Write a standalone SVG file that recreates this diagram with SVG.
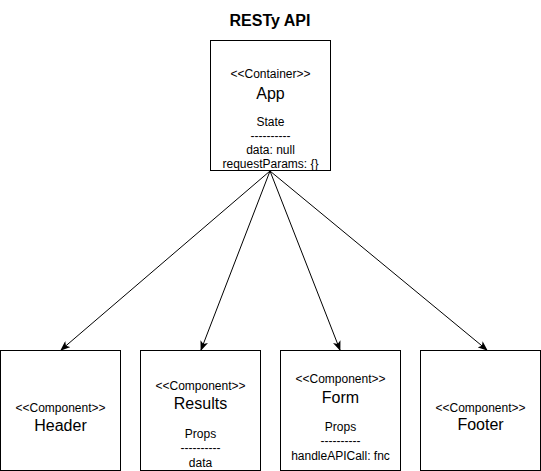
<svg xmlns="http://www.w3.org/2000/svg" width="541" height="471" viewBox="0 0 541 471">
<style>
text{font-family:"Liberation Sans",Arial,Helvetica,sans-serif;fill:#000;text-anchor:middle}
.box{fill:#fff;stroke:#000;stroke-width:1}
.s{font-size:12px}
.m{font-size:12px}
.l{font-size:16px}
.t{font-size:16px;font-weight:bold}
.edge{stroke:#000;stroke-width:1;fill:none}
</style>
<defs>
<marker id="arr" viewBox="0 0 10 8" refX="9" refY="4" markerWidth="10" markerHeight="8" markerUnits="userSpaceOnUse" orient="auto">
<path d="M0,0 L10,4 L0,8 L2.5,4 Z" fill="#000"/>
</marker>
</defs>
<text class="t" x="270" y="26">RESTy API</text>
<g id="connectors">
<line class="edge" x1="270" y1="171" x2="61" y2="350" marker-end="url(#arr)"/>
<line class="edge" x1="270" y1="171" x2="201" y2="350" marker-end="url(#arr)"/>
<line class="edge" x1="270" y1="171" x2="340" y2="350" marker-end="url(#arr)"/>
<line class="edge" x1="270" y1="171" x2="487" y2="350" marker-end="url(#arr)"/>
</g>
<g id="app">
<rect class="box" x="210.5" y="40.5" width="120" height="130"/>
<text class="s" x="270.5" y="78">&lt;&lt;Container&gt;&gt;</text>
<text class="l" x="270.5" y="99">App</text>
<text class="m" x="270.5" y="126">State</text>
<text class="m" x="270.5" y="140">----------</text>
<text class="m" x="270.5" y="154">data: null</text>
<text class="m" x="270.5" y="168">requestParams: {}</text>
</g>
<g id="header">
<rect class="box" x="0.5" y="350.5" width="120" height="120"/>
<text class="s" x="60.5" y="412">&lt;&lt;Component&gt;&gt;</text>
<text class="l" x="60.5" y="431">Header</text>
</g>
<g id="results">
<rect class="box" x="140.5" y="350.5" width="120" height="120"/>
<text class="s" x="200.5" y="390">&lt;&lt;Component&gt;&gt;</text>
<text class="l" x="200.5" y="409">Results</text>
<text class="m" x="200.5" y="438">Props</text>
<text class="m" x="200.5" y="452">----------</text>
<text class="m" x="200.5" y="467">data</text>
</g>
<g id="form">
<rect class="box" x="280.5" y="350.5" width="120" height="120"/>
<text class="s" x="340.5" y="383">&lt;&lt;Component&gt;&gt;</text>
<text class="l" x="340.5" y="403">Form</text>
<text class="m" x="340.5" y="431">Props</text>
<text class="m" x="340.5" y="445">----------</text>
<text class="m" x="340.5" y="460">handleAPICall: fnc</text>
</g>
<g id="footer">
<rect class="box" x="420.5" y="350.5" width="120" height="120"/>
<text class="s" x="480.5" y="412">&lt;&lt;Component&gt;&gt;</text>
<text class="l" x="480.5" y="430">Footer</text>
</g>
</svg>
